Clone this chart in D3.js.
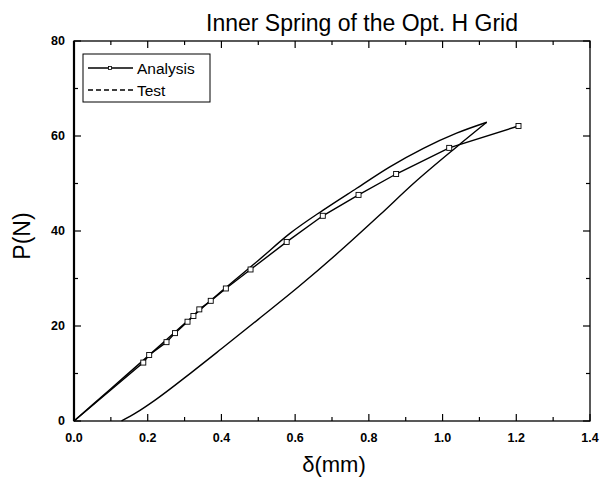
<!DOCTYPE html>
<html><head><meta charset="utf-8">
<script src="https://cdn.jsdelivr.net/npm/d3@7"></script>
<style>body{margin:0;background:#fff}svg{display:block}text{font-family:"Liberation Sans",Arial,sans-serif;fill:#000}</style>
</head><body><svg id="c" width="602" height="485"></svg>
<script>
const analysisX=[0,0.188,0.204,0.251,0.274,0.308,0.324,0.340,0.371,0.412,0.479,0.577,0.675,0.772,0.874,1.018,1.206];
const analysisY=[0,12.3,13.9,16.6,18.5,20.9,22.1,23.5,25.3,27.9,31.9,37.7,43.2,47.6,52.0,57.5,62.1];
// loading branch of the test loop
const testLoadX=[0,0.1,0.2,0.3,0.4,0.5,0.586,0.676,0.767,0.857,0.948,1.038,1.12];
const testLoadY=[0,6.8,13.6,20.5,27.3,33.8,39.5,44.4,49.0,53.5,57.4,60.6,62.9];
// unloading branch of the test loop (listed by increasing deflection)
const testUnloadX=[0.129,0.17,0.22,0.32,0.4,0.5,0.61,0.731,0.83,0.921,1.038,1.12];
const testUnloadY=[0,1.8,4.4,10.3,15.2,21.4,28.3,36.4,43.4,50.0,57.7,62.9];
const xTicks=[0,0.2,0.4,0.6,0.8,1.0,1.2,1.4];
const yTicks=[0,20,40,60,80];
const title="Inner Spring of the Opt. H Grid";
const xLabel="δ(mm)", yLabel="P(N)";
const legendNames=["Analysis","Test"];

const svg=d3.select("#c");
const x=d3.scaleLinear().domain([0,1.4]).range([74,590]);
const y=d3.scaleLinear().domain([0,80]).range([421,41]);
const X0=x(0),X1=x(1.4),Y0=y(0),Y1=y(80);

svg.append("rect").attr("x",X0).attr("y",Y1).attr("width",X1-X0).attr("height",Y0-Y1)
 .attr("fill","none").attr("stroke","#000").attr("stroke-width",1.3);
svg.append("line").attr("x1",X0).attr("x2",X0).attr("y1",Y1).attr("y2",Y0).attr("stroke","#000").attr("stroke-width",2.2);

const minorX=d3.range(0,15).map(i=>i/10), minorY=d3.range(0,9).map(i=>i*10);
const g=svg.append("g").attr("stroke","#000").attr("stroke-width",1.2);
minorX.forEach((v,i)=>{const L=i%2===0?7:4;
 g.append("line").attr("x1",x(v)).attr("x2",x(v)).attr("y1",Y0).attr("y2",Y0-L);
 g.append("line").attr("x1",x(v)).attr("x2",x(v)).attr("y1",Y1).attr("y2",Y1+L);});
minorY.forEach((v,i)=>{const L=i%2===0?7:4;
 g.append("line").attr("y1",y(v)).attr("y2",y(v)).attr("x1",X0).attr("x2",X0+L);
 g.append("line").attr("y1",y(v)).attr("y2",y(v)).attr("x1",X1).attr("x2",X1-L);});

svg.selectAll(".xt").data(xTicks).enter().append("text").attr("x",d=>x(d)).attr("y",Y0+21)
 .attr("text-anchor","middle").attr("font-size",12.5).attr("font-weight","bold").text(d=>d.toFixed(1));
svg.selectAll(".yt").data(yTicks).enter().append("text").attr("x",65).attr("y",d=>y(d)+4)
 .attr("text-anchor","end").attr("font-size",12.5).attr("font-weight","bold").text(d=>d);

svg.append("text").attr("x",362).attr("y",31).attr("text-anchor","middle").attr("font-size",23).text(title);
svg.append("text").attr("x",334).attr("y",472).attr("text-anchor","middle").attr("font-size",22).text(xLabel);
svg.append("text").attr("transform","translate(30,236) rotate(-90)").attr("text-anchor","middle").attr("font-size",23).text(yLabel);

const smooth=d3.line().curve(d3.curveMonotoneX).x(d=>x(d[0])).y(d=>y(d[1]));
const line=d3.line().x(d=>x(d[0])).y(d=>y(d[1]));
const load=testLoadX.map((v,i)=>[v,testLoadY[i]]);
const unload=testUnloadX.map((v,i)=>[v,testUnloadY[i]]);
const aData=analysisX.map((v,i)=>[v,analysisY[i]]);
svg.append("path").attr("d",smooth(load)).attr("fill","none").attr("stroke","#000").attr("stroke-width",1.4);
svg.append("path").attr("d",smooth(unload)).attr("fill","none").attr("stroke","#000").attr("stroke-width",1.4);
svg.append("path").attr("d",line(aData)).attr("fill","none").attr("stroke","#000").attr("stroke-width",1.4);
svg.selectAll(".m").data(aData.slice(1)).enter().append("rect").attr("x",d=>x(d[0])-2.5).attr("y",d=>y(d[1])-2.5)
 .attr("width",5).attr("height",5).attr("fill","#fff").attr("stroke","#000").attr("stroke-width",0.9);

// legend
svg.append("rect").attr("x",83).attr("y",54).attr("width",127).attr("height",48).attr("fill","#fff").attr("stroke","#000").attr("stroke-width",1);
svg.append("line").attr("x1",88).attr("x2",133).attr("y1",68).attr("y2",68).attr("stroke","#000").attr("stroke-width",1.4);
svg.append("rect").attr("x",108.5).attr("y",66.5).attr("width",3).attr("height",3).attr("fill","#fff").attr("stroke","#000").attr("stroke-width",0.8);
svg.append("line").attr("x1",88).attr("x2",133).attr("y1",90).attr("y2",90).attr("stroke","#000").attr("stroke-width",1.4).attr("stroke-dasharray","5,3");
svg.append("text").attr("x",137).attr("y",74).attr("font-size",15.5).text(legendNames[0]);
svg.append("text").attr("x",137).attr("y",96).attr("font-size",15.5).text(legendNames[1]);
</script></body></html>
